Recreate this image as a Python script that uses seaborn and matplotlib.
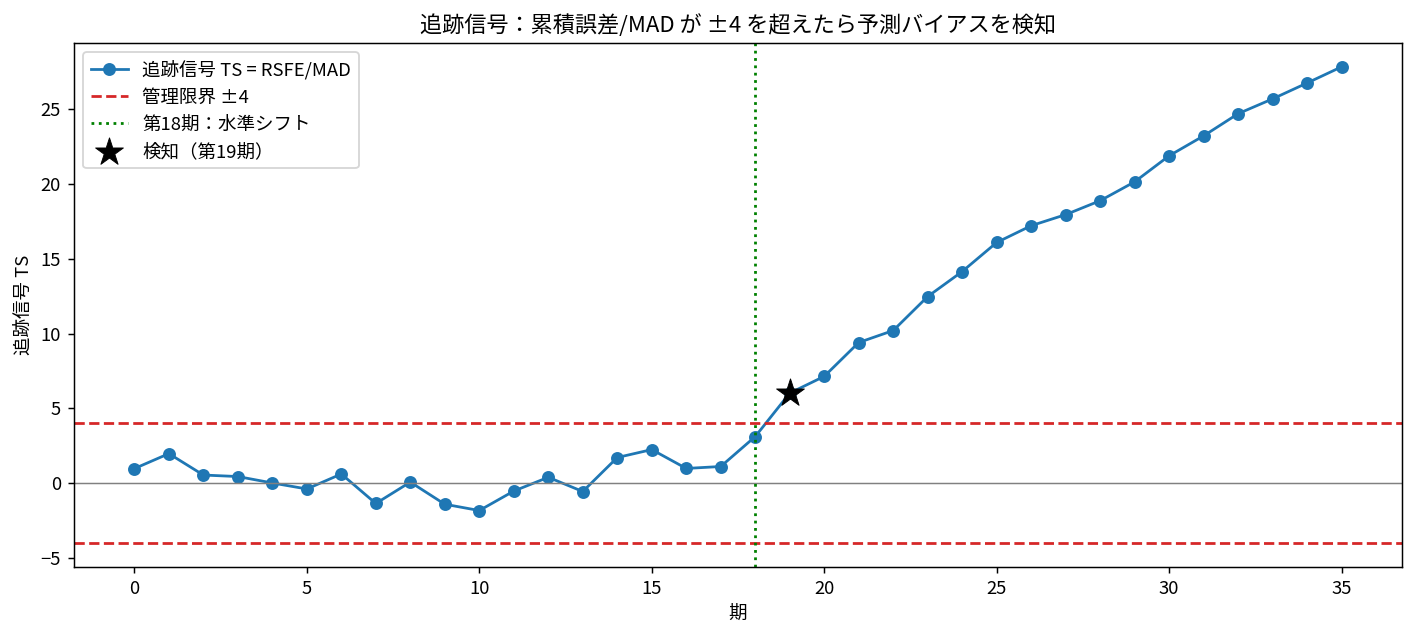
import numpy as np
import pandas as pd
import matplotlib
matplotlib.use("Agg")
import matplotlib.pyplot as plt
import seaborn as sns

plt.rcParams['font.family'] = ['Noto Sans CJK JP', 'DejaVu Sans']
plt.rcParams['axes.unicode_minus'] = True

# 追跡信号 TS の値
periods = list(range(36))
ts_values = [0.98, 1.98, 0.55, 0.45, 0.02, -0.38, 0.62, -1.35, 0.08, -1.40,
             -1.82, -0.52, 0.40, -0.55, 1.72, 2.25, 0.99, 1.12, 3.12, 6.02,
             7.14, 9.40, 10.20, 12.47, 14.14, 16.08, 17.20, 17.94, 18.87, 20.13,
             21.87, 23.20, 24.68, 25.67, 26.73, 27.81]
limit = 4
shift_period = 18
detect_period = 19

df = pd.DataFrame({"期": periods, "TS": ts_values})
detect = df[df["期"] == detect_period]

dpi = 133
fig = plt.figure(figsize=(1415 / dpi, 636 / dpi), dpi=dpi)
ax = fig.add_axes([0.0523, 0.1085, 0.9385, 0.8239])

sns.lineplot(data=df, x="期", y="TS", ax=ax, color="#1f77b4", marker="o",
             markersize=6, markeredgecolor="#1f77b4", markeredgewidth=1,
             linewidth=1.5, label="追跡信号 TS = RSFE/MAD")
ax.axhline(limit, color="#d62728", linestyle="--", linewidth=1.5, label="管理限界 ±4")
ax.axhline(-limit, color="#d62728", linestyle="--", linewidth=1.5)
ax.axhline(0, color="gray", linewidth=0.8)
ax.axvline(shift_period, color="green", linestyle=":", linewidth=1.5,
           label="第18期：水準シフト")
sns.scatterplot(data=detect, x="期", y="TS", ax=ax, marker="*", s=250,
                color="black", edgecolor="black", linewidth=0.5, zorder=5,
                label="検知（第19期）")

ax.set_title("追跡信号：累積誤差/MAD が ±4 を超えたら予測バイアスを検知", fontsize=12)
ax.set_xlabel("期")
ax.set_ylabel("追跡信号 TS")
ax.legend(loc="upper left")

fig.savefig("out.png", dpi=dpi)
